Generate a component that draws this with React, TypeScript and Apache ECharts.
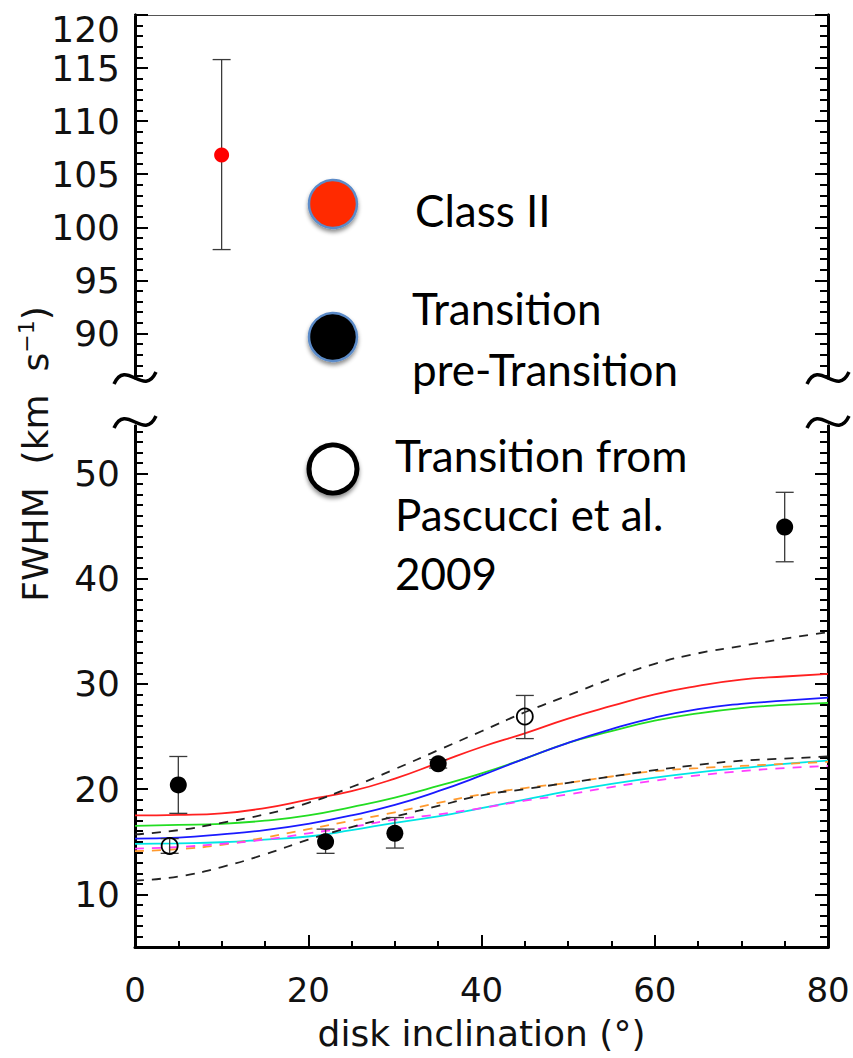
import React, { useEffect, useRef } from "react";
import * as echarts from "echarts";

// ---------- data ----------
const inclination = [0, 5, 10, 15, 20, 25, 30, 35, 40, 45, 50, 55, 60, 65, 70, 75, 80];
const modelRed = [17.5, 17.55, 17.7, 18.2, 19.0, 19.8, 21.0, 22.5, 24.0, 25.3, 26.7, 27.9, 29.0, 29.8, 30.4, 30.7, 30.95];
const modelBlue = [15.3, 15.4, 15.7, 16.1, 16.7, 17.5, 18.5, 19.8, 21.3, 22.9, 24.4, 25.7, 26.8, 27.6, 28.1, 28.4, 28.7];
const modelGreen = [16.5, 16.6, 16.7, 17.0, 17.5, 18.3, 19.2, 20.3, 21.5, 22.9, 24.4, 25.5, 26.5, 27.2, 27.7, 28.0, 28.2];
const modelCyan = [14.8, 14.85, 14.95, 15.2, 15.5, 16.1, 16.8, 17.4, 18.2, 19.0, 19.8, 20.5, 21.1, 21.6, 22.0, 22.4, 22.7];
const modelOrange = [14.1, 14.3, 14.7, 15.4, 16.2, 17.0, 17.8, 18.7, 19.5, 20.1, 20.6, 21.2, 21.7, 22.0, 22.2, 22.4, 22.6];
const modelMagenta = [14.35, 14.5, 14.8, 15.2, 15.8, 16.4, 17.1, 17.6, 18.2, 18.9, 19.5, 20.2, 20.8, 21.3, 21.7, 22.0, 22.2];
const modelBlackLow = [11.3, 11.7, 12.6, 13.8, 15.2, 16.4, 17.4, 18.4, 19.4, 20.0, 20.6, 21.2, 21.8, 22.3, 22.7, 22.9, 23.1];
const modelBlackHigh = [15.7, 16.1, 16.8, 17.6, 18.7, 20.2, 21.9, 23.7, 25.5, 27.3, 28.9, 30.5, 31.9, 32.9, 33.6, 34.3, 34.9];

const classIIX = [10];
const classIIY = [106.8];
const classIILow = [97.9];
const classIIHigh = [115.8];

const transX = [5, 22, 30, 35, 75];
const transY = [20.4, 15.0, 15.8, 22.4, 44.9];
const transLow = [17.7, 13.9, 14.4, 22.0, 41.6];
const transHigh = [23.1, 16.2, 17.3, 22.8, 48.2];

const pascX = [4, 45];
const pascY = [14.6, 26.9];
const pascLow = [13.9, 24.8];
const pascHigh = [15.3, 28.9];

const upperMajorTicks = [90, 95, 100, 105, 110, 115, 120];
const upperMinorTicks = [86, 87, 88, 89, 90, 91, 92, 93, 94, 95, 96, 97, 98, 99, 100, 101, 102, 103, 104, 105, 106, 107, 108, 109, 110, 111, 112, 113, 114, 115, 116, 117, 118, 119, 120];
const lowerMajorTicks = [10, 20, 30, 40, 50];
const lowerMinorTicks = [5, 6, 7, 8, 9, 10, 11, 12, 13, 14, 15, 16, 17, 18, 19, 20, 21, 22, 23, 24, 25, 26, 27, 28, 29, 30, 31, 32, 33, 34, 35, 36, 37, 38, 39, 40, 41, 42, 43, 44, 45, 46, 47, 48, 49, 50, 51, 52, 53, 54];

const UPPER_MIN = 85.8;
const UPPER_MAX = 120;
const LOWER_MIN = 5;
const LOWER_MAX = 54.5;

// ---------- helpers ----------
const AX_FONT = "DejaVu Sans";
const pairs = (xs: number[], ys: number[]) => xs.map((x, i) => [x, ys[i]]);
const triples = (xs: number[], lo: number[], hi: number[]) => xs.map((x, i) => [x, lo[i], hi[i]]);

function yAxisSet(gridIndex: number, min: number, max: number, major: number[], minor: number[]) {
  const common = {
    gridIndex,
    type: "value",
    min,
    max,
    splitLine: { show: false },
    axisLine: { show: true, lineStyle: { color: "#000", width: 3 } },
  };
  const labelStyle = {
    fontFamily: AX_FONT,
    fontSize: 36,
    color: "#111",
    margin: 15,
  };
  return [
    {
      ...common,
      position: "left",
      axisTick: { show: true, inside: true, length: 13, lineStyle: { width: 2, color: "#000" }, customValues: major },
      axisLabel: {
        ...labelStyle,
        customValues: major,
        formatter: (v: number) => (v === 120 ? "{t|120}" : String(v)),
        rich: { t: { fontFamily: AX_FONT, fontSize: 36, color: "#111", padding: [28, 0, 0, 0] } },
      },
    },
    {
      ...common,
      position: "left",
      axisTick: { show: true, inside: true, length: 8, lineStyle: { width: 2, color: "#000" }, customValues: minor },
      axisLabel: { show: false },
    },
    {
      ...common,
      position: "right",
      axisTick: { show: true, inside: true, length: 13, lineStyle: { width: 2, color: "#000" }, customValues: major },
      axisLabel: { show: false },
    },
    {
      ...common,
      position: "right",
      axisTick: { show: true, inside: true, length: 8, lineStyle: { width: 2, color: "#000" }, customValues: minor },
      axisLabel: { show: false },
    },
  ];
}

function errorBarSeries(name: string, xAxisIndex: number, yAxisIndex: number, data: number[][]) {
  return {
    name,
    type: "custom",
    xAxisIndex,
    yAxisIndex,
    z: 3,
    encode: { x: 0, y: [1, 2] },
    data,
    renderItem: (_params: any, api: any) => {
      const x = api.value(0);
      const lo = api.value(1);
      const hi = api.value(2);
      const top = api.coord([x, hi]);
      const bot = api.coord([x, lo]);
      const w = 9;
      const st = { stroke: "#3a3a3a", lineWidth: 1.3 };
      return {
        type: "group",
        children: [
          { type: "line", shape: { x1: top[0], y1: top[1], x2: bot[0], y2: bot[1] }, style: st },
          { type: "line", shape: { x1: top[0] - w, y1: top[1], x2: top[0] + w, y2: top[1] }, style: st },
          { type: "line", shape: { x1: bot[0] - w, y1: bot[1], x2: bot[0] + w, y2: bot[1] }, style: st },
        ],
      };
    },
  };
}

function curve(name: string, values: number[], color: string, dashed: boolean) {
  return {
    name,
    type: "line",
    xAxisIndex: 1,
    yAxisIndex: 4,
    data: pairs(inclination, values),
    smooth: true,
    showSymbol: false,
    symbol: "none",
    z: 2,
    lineStyle: { color, width: 1.8, type: dashed ? [9, 8] : "solid" },
  };
}

function tilde(cx: number, cy: number) {
  return {
    type: "bezierCurve",
    shape: { x1: cx - 21, y1: cy + 6, cpx1: cx - 9, cpy1: cy - 20, cpx2: cx + 9, cpy2: cy + 20, x2: cx + 21, y2: cy - 6 },
    style: { stroke: "#000", lineWidth: 3.5, fill: "none" },
    z: 10,
  };
}

const LEG_FONT = "Lato";
function legText(text: string, x: number, y: number) {
  return {
    type: "text",
    x,
    y,
    style: { text, fontFamily: LEG_FONT, fontSize: 44, fill: "#000", align: "left", verticalAlign: "middle" },
    z: 10,
  };
}

export default function App() {
  const ref = useRef<HTMLDivElement>(null);
  useEffect(() => {
    if (!ref.current) return;
    const chart = echarts.init(ref.current, null, { renderer: "svg" });
    const option: any = {
      animation: false,
      backgroundColor: "#fff",
      grid: [
        { left: 135, width: 693, top: 15, height: 363 },
        { left: 135, width: 693, top: 426, height: 521 },
      ],
      xAxis: [
        {
          gridIndex: 0,
          type: "value",
          min: 0,
          max: 80,
          position: "top",
          axisLine: { show: true, lineStyle: { color: "#555", width: 1.2 } },
          axisTick: { show: false },
          axisLabel: { show: false },
          splitLine: { show: false },
        },
        {
          gridIndex: 1,
          type: "value",
          min: 0,
          max: 80,
          interval: 20,
          position: "bottom",
          axisLine: { show: true, lineStyle: { color: "#000", width: 3 } },
          axisTick: { show: true, inside: true, length: 12, lineStyle: { width: 2, color: "#000" } },
          minorTick: { show: true, splitNumber: 4, length: 6, lineStyle: { width: 2, color: "#000" } },
          axisLabel: { fontFamily: AX_FONT, fontSize: 34, color: "#111", margin: 26 },
          splitLine: { show: false },
          name: "disk inclination (°)",
          nameLocation: "middle",
          nameGap: 68,
          nameTextStyle: { fontFamily: AX_FONT, fontSize: 36, color: "#111" },
        },
      ],
      yAxis: [
        ...yAxisSet(0, UPPER_MIN, UPPER_MAX, upperMajorTicks, upperMinorTicks),
        ...yAxisSet(1, LOWER_MIN, LOWER_MAX, lowerMajorTicks, lowerMinorTicks),
      ],
      series: [
        curve("model 1", modelRed, "#ff2020", false),
        curve("model 2", modelGreen, "#22dd22", false),
        curve("model 3", modelBlue, "#1a1aff", false),
        curve("model 4", modelCyan, "#00e5e5", false),
        curve("model 5", modelOrange, "#ff9a2e", true),
        curve("model 6", modelMagenta, "#ff3dff", true),
        curve("model 7", modelBlackLow, "#222", true),
        curve("model 8", modelBlackHigh, "#222", true),
        errorBarSeries("Class II err", 0, 0, triples(classIIX, classIILow, classIIHigh)),
        errorBarSeries("Transition err", 1, 4, triples(transX, transLow, transHigh)),
        errorBarSeries("Pascucci err", 1, 4, triples(pascX, pascLow, pascHigh)),
        {
          name: "Class II",
          type: "scatter",
          xAxisIndex: 0,
          yAxisIndex: 0,
          data: pairs(classIIX, classIIY),
          symbol: "circle",
          symbolSize: 15,
          itemStyle: { color: "#ff0000", opacity: 1 },
          z: 5,
        },
        {
          name: "Transition pre-Transition",
          type: "scatter",
          xAxisIndex: 1,
          yAxisIndex: 4,
          data: pairs(transX, transY),
          symbol: "circle",
          symbolSize: 17,
          itemStyle: { color: "#000", opacity: 1 },
          z: 5,
        },
        {
          name: "Transition from Pascucci et al. 2009",
          type: "scatter",
          xAxisIndex: 1,
          yAxisIndex: 4,
          data: pairs(pascX, pascY),
          symbol: "circle",
          symbolSize: 16,
          itemStyle: { color: "rgba(0,0,0,0)", borderColor: "#000", borderWidth: 1.8, opacity: 1 },
          z: 5,
        },
      ],
      graphic: [
        tilde(135, 378),
        tilde(135, 422),
        tilde(828, 378),
        tilde(828, 422),
        {
          type: "text",
          x: 35,
          y: 454,
          rotation: Math.PI / 2,
          style: {
            text: "{b|FWHM  (km  s}{s|−1}{b|)}",
            align: "center",
            verticalAlign: "middle",
            rich: {
              b: { fontFamily: AX_FONT, fontSize: 36, fill: "#111", lineHeight: 40 },
              s: { fontFamily: AX_FONT, fontSize: 22, fill: "#111", padding: [0, 0, 18, 0] },
            },
          },
          z: 10,
        },
        {
          type: "circle",
          shape: { cx: 333, cy: 204, r: 24 },
          style: { fill: "#ff2a00", stroke: "#5b8bc8", lineWidth: 2.5, shadowBlur: 4, shadowOffsetY: 3, shadowColor: "rgba(0,0,0,0.45)" },
          z: 10,
        },
        {
          type: "circle",
          shape: { cx: 333, cy: 337, r: 24 },
          style: { fill: "#000", stroke: "#5b8bc8", lineWidth: 2.5, shadowBlur: 4, shadowOffsetY: 3, shadowColor: "rgba(0,0,0,0.45)" },
          z: 10,
        },
        {
          type: "circle",
          shape: { cx: 333, cy: 469, r: 24 },
          style: { fill: "#fff", stroke: "#000", lineWidth: 5, shadowBlur: 4, shadowOffsetY: 3, shadowColor: "rgba(0,0,0,0.45)" },
          z: 10,
        },
        legText("Class II", 415, 210),
        legText("Transition", 412, 308),
        legText("pre-Transition", 412, 369),
        legText("Transition from", 395, 455),
        legText("Pascucci et al.", 395, 514),
        legText("2009", 395, 573),
      ],
    };
    chart.setOption(option);
    return () => chart.dispose();
  }, []);
  return (
    <div
      ref={ref}
      style={{ position: "absolute", left: 0, top: 0, width: 853, height: 1058, background: "#fff" }}
    />
  );
}
